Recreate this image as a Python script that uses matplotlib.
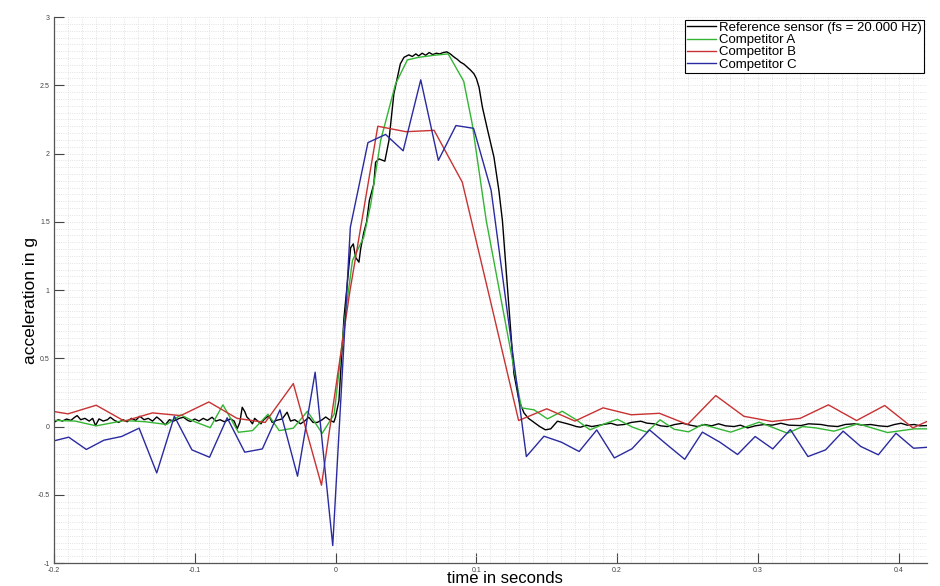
import matplotlib.pyplot as plt
import numpy as np
from matplotlib.ticker import MultipleLocator, FormatStrFormatter

plt.rcParams['font.family'] = ['Liberation Sans', 'DejaVu Sans']

# reference sensor (time [s], acceleration [g])
ref_pts = [
    (-0.2, 0.03), (-0.197, 0.05), (-0.194, 0.04), (-0.191, 0.055), (-0.188, 0.045),
    (-0.185, 0.07), (-0.1835, 0.08), (-0.181, 0.05), (-0.178, 0.06), (-0.175, 0.04),
    (-0.1725, 0.06), (-0.1705, 0.007), (-0.168, 0.056), (-0.165, 0.04), (-0.162, 0.05),
    (-0.16, 0.068), (-0.157, 0.045), (-0.154, 0.03), (-0.151, 0.05), (-0.148, 0.035),
    (-0.145, 0.06), (-0.142, 0.045), (-0.139, 0.075), (-0.136, 0.05), (-0.133, 0.06),
    (-0.13, 0.04), (-0.127, 0.07), (-0.124, 0.045), (-0.121, 0.012), (-0.118, 0.05),
    (-0.115, 0.04), (-0.111, 0.06), (-0.108, 0.068), (-0.105, 0.045), (-0.103, 0.037),
    (-0.1, 0.055), (-0.097, 0.04), (-0.094, 0.06), (-0.091, 0.045), (-0.0877, 0.068),
    (-0.085, 0.04), (-0.082, 0.05), (-0.079, 0.035), (-0.0746, 0.056), (-0.072, 0.04),
    (-0.0699, -0.017), (-0.068, 0.03), (-0.0663, 0.141), (-0.0645, 0.11), (-0.063, 0.07),
    (-0.0616, 0.056), (-0.059, 0.02), (-0.0575, 0.06), (-0.0557, 0.044), (-0.053, 0.02),
    (-0.051, 0.05), (-0.0474, 0.08), (-0.045, 0.03), (-0.042, 0.045), (-0.0379, 0.056),
    (-0.0344, 0.105), (-0.032, 0.04), (-0.029, 0.05), (-0.0249, 0.02), (-0.022, 0.04),
    (-0.019, 0.068), (-0.016, 0.03), (-0.013, 0.03), (-0.0095, 0.05), (-0.007, 0.07),
    (-0.0036, 0.044), (-0.0012, 0.032), (0.0, 0.07), (0.0024, 0.19), (0.006, 0.80),
    (0.0083, 1.045), (0.0107, 1.31), (0.0126, 1.338), (0.0142, 1.24), (0.0166, 1.204),
    (0.0178, 1.30), (0.020, 1.42), (0.022, 1.497), (0.024, 1.656), (0.0272, 1.778),
    (0.0284, 1.936), (0.0308, 1.961), (0.035, 1.944), (0.0379, 2.095), (0.0414, 2.437),
    (0.046, 2.657), (0.0486, 2.705), (0.052, 2.723), (0.0545, 2.711), (0.057, 2.73),
    (0.059, 2.715), (0.0615, 2.735), (0.064, 2.72), (0.0665, 2.74), (0.069, 2.725),
    (0.0715, 2.735), (0.074, 2.73), (0.0765, 2.74), (0.079, 2.745), (0.0815, 2.73),
    (0.084, 2.708), (0.0865, 2.69), (0.0888, 2.669), (0.0912, 2.655), (0.0936, 2.632),
    (0.096, 2.61), (0.0983, 2.584), (0.1, 2.55), (0.1019, 2.486), (0.1043, 2.339),
    (0.1078, 2.18), (0.1125, 1.973), (0.116, 1.729), (0.1185, 1.509), (0.1228, 0.92),
    (0.1267, 0.386), (0.1303, 0.19), (0.1338, 0.10), (0.137, 0.06), (0.141, 0.03),
    (0.145, 0.0), (0.149, -0.024), (0.1528, -0.017), (0.1576, 0.039), (0.161, 0.03),
    (0.1647, 0.02), (0.168, 0.01), (0.171, 0.0), (0.174, -0.005), (0.178, 0.01),
    (0.182, 0.0), (0.186, 0.007), (0.19, 0.015), (0.1955, 0.024), (0.2, 0.01),
    (0.205, 0.015), (0.21, 0.03), (0.2168, 0.039), (0.221, 0.025), (0.2262, 0.02),
    (0.231, 0.005), (0.2357, 0.0), (0.241, 0.015), (0.2464, 0.024), (0.252, 0.01),
    (0.257, 0.0), (0.262, 0.015), (0.267, 0.005), (0.272, 0.02), (0.277, 0.005),
    (0.283, 0.0), (0.2875, 0.01), (0.2926, -0.01), (0.298, 0.005), (0.3044, 0.015),
    (0.31, 0.01), (0.3163, 0.024), (0.322, 0.01), (0.3305, 0.007), (0.336, 0.02),
    (0.3447, 0.015), (0.35, 0.005), (0.3566, 0.0), (0.362, 0.015), (0.3684, 0.02),
    (0.374, 0.01), (0.38, 0.015), (0.386, 0.005), (0.392, 0.0), (0.397, 0.015),
    (0.4016, 0.024), (0.406, 0.01), (0.411, 0.015), (0.415, 0.005), (0.42, 0.007),
]

# competitor A
a_pts = [
    (-0.2, 0.045), (-0.185, 0.04), (-0.17, 0.005), (-0.15, 0.044), (-0.135, 0.035),
    (-0.12, 0.015), (-0.11, 0.085), (-0.1, 0.035), (-0.089, -0.008), (-0.08, 0.159),
    (-0.069, -0.042), (-0.059, -0.03), (-0.048, 0.09), (-0.04, -0.03), (-0.03, -0.012),
    (-0.02, 0.112), (-0.0095, -0.05), (-0.001, 0.09), (0.007, 0.826), (0.012, 1.216),
    (0.02, 1.387), (0.025, 1.63), (0.032, 2.095), (0.0426, 2.51), (0.051, 2.686),
    (0.059, 2.705), (0.07, 2.72), (0.08, 2.73), (0.091, 2.53), (0.097, 2.22),
    (0.107, 1.51), (0.132, 0.137), (0.141, 0.122), (0.1505, 0.056), (0.161, 0.112),
    (0.171, 0.049), (0.1807, -0.024), (0.191, 0.02), (0.2002, 0.053), (0.211, -0.005),
    (0.221, -0.041), (0.2305, 0.049), (0.2405, -0.02), (0.2507, -0.039), (0.2606, 0.015),
    (0.2807, -0.041), (0.3008, 0.032), (0.321, -0.049), (0.3317, 0.0), (0.341, -0.01),
    (0.354, -0.034), (0.371, 0.02), (0.392, -0.044), (0.411, -0.017), (0.42, -0.017),
]

# competitor B
b_t = [-0.2, -0.19, -0.17, -0.15, -0.13, -0.11, -0.09, -0.07, -0.05, -0.03,
       -0.01, 0.01, 0.03, 0.05, 0.07, 0.09, 0.11, 0.13, 0.15, 0.17,
       0.19, 0.21, 0.23, 0.25, 0.27, 0.29, 0.31, 0.33, 0.35, 0.37,
       0.39, 0.41, 0.42]
b_g = [0.11, 0.093, 0.156, 0.04, 0.10, 0.08, 0.18, 0.06, 0.03, 0.315,
       -0.43, 0.98, 2.20, 2.16, 2.17, 1.79, 0.92, 0.044, 0.13, 0.04,
       0.137, 0.086, 0.097, 0.015, 0.227, 0.075, 0.037, 0.06, 0.159, 0.044,
       0.154, -0.01, 0.037]

# competitor C (80 Hz)
c_t = -0.002 + 0.0125 * np.arange(-16, 35)
c_g = [-0.11, -0.078, -0.168, -0.10, -0.073, -0.012, -0.34, 0.075, -0.171, -0.225,
       0.064, -0.188, -0.164, 0.122, -0.364, 0.398, -0.872, 1.46, 2.08, 2.14,
       2.02, 2.54, 1.95, 2.205, 2.185, 1.73, 0.76, -0.22, -0.071, -0.115,
       -0.183, -0.025, -0.23, -0.163, -0.025, -0.134, -0.24, -0.041, -0.115, -0.205,
       -0.073, -0.164, -0.022, -0.22, -0.171, -0.034, -0.146, -0.207, -0.049, -0.159,
       -0.15]

ref_t, ref_g = zip(*ref_pts)
a_t, a_g = zip(*a_pts)

fig = plt.figure(figsize=(9.4, 5.86), dpi=100)
ax = fig.add_axes([0.0574, 0.0392, 0.9287, 0.9317])

ax.plot(ref_t, ref_g, color='black', lw=1.0, label='Reference sensor (fs = 20.000 Hz)')
ax.plot(a_t, a_g, color='#33b533', lw=1.0, label='Competitor A')
ax.plot(b_t, b_g, color='#c83232', lw=1.0, label='Competitor B')
ax.plot(c_t, c_g, color='#2a2aa0', lw=1.0, label='Competitor C')

ax.set_xlim(-0.2, 0.42)
ax.set_ylim(-1, 3)
ax.xaxis.set_major_locator(MultipleLocator(0.1))
ax.yaxis.set_major_locator(MultipleLocator(0.5))
ax.xaxis.set_minor_locator(MultipleLocator(0.01))
ax.yaxis.set_minor_locator(MultipleLocator(0.05))
ax.xaxis.set_major_formatter(FormatStrFormatter('%g'))
ax.yaxis.set_major_formatter(FormatStrFormatter('%g'))
ax.grid(which='both', color='#dadada', linestyle=':', linewidth=0.6)
ax.tick_params(which='major', direction='in', length=7, width=0.8,
               labelsize=5, colors='#444444', pad=3)
ax.tick_params(axis='x', which='major', pad=2.5)
ax.tick_params(which='minor', length=0)

for s in ['top', 'right']:
    ax.spines[s].set_visible(False)
for s in ['left', 'bottom']:
    ax.spines[s].set_color('#555555')
    ax.spines[s].set_linewidth(0.9)

ax.set_xlabel('time in seconds', fontsize=12)
ax.set_ylabel('acceleration in g', fontsize=12.5)
ax.xaxis.set_label_coords(0.517, -0.0372, transform=ax.transAxes)
ax.xaxis.label.set_va('baseline')
ax.yaxis.set_label_coords(-0.018, 0.48, transform=ax.transAxes)

leg = ax.legend(loc='upper right', bbox_to_anchor=(0.9965, 0.995), fontsize=9.5,
                handlelength=2.2, handletextpad=0.25, labelspacing=0.0,
                borderpad=0.15, borderaxespad=0, fancybox=False, framealpha=1)
leg.get_frame().set_edgecolor('black')
leg.get_frame().set_linewidth(0.8)

fig.savefig('out.png', dpi=100)
